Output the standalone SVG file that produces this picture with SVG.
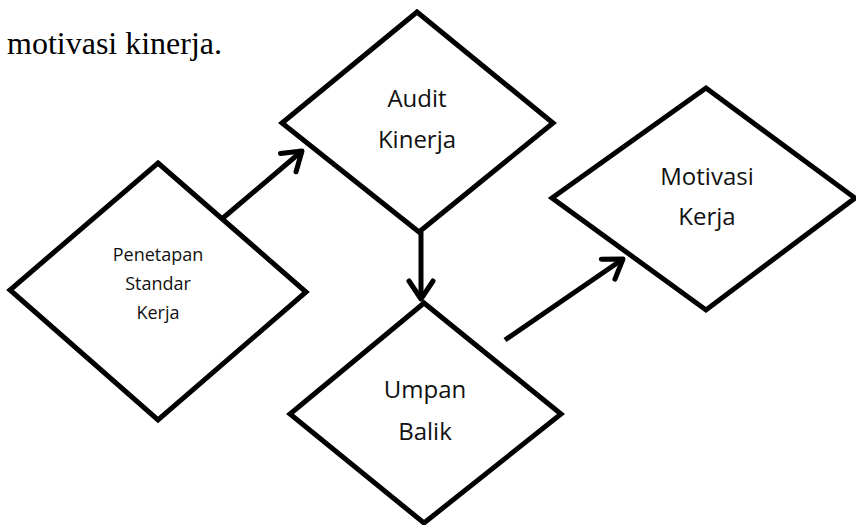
<svg xmlns="http://www.w3.org/2000/svg" width="856" height="525" viewBox="0 0 856 525">
<style>
.shape{fill:#fff;stroke:#000;stroke-width:5;stroke-linejoin:miter}
.lbl{font-family:"Open Sans","Noto Sans",sans-serif;fill:#111;text-anchor:middle}
.big{font-size:24px}
.small{font-size:18px}
.conn{fill:none;stroke:#000;stroke-width:5;marker-end:url(#arr)}
.body{font-family:"Liberation Serif","Times New Roman",serif;font-size:32px;fill:#000}
</style>
<defs>
<marker id="arr" markerUnits="userSpaceOnUse" markerWidth="40" markerHeight="40" viewBox="-30 -20 40 40" refX="0" refY="0" orient="auto" overflow="visible">
<path d="M-18,-12 L0,0 L-18,12" fill="none" stroke="#000" stroke-width="5" stroke-linecap="round" stroke-linejoin="round"/>
</marker>
</defs>
<rect width="856" height="525" fill="#fff"/>
<text class="body" x="7" y="54">motivasi kinerja.</text>
<g id="penetapan">
<polygon class="shape" points="158,163 306,292 158,420 10,290"/>
<text class="lbl small" x="158" y="261">Penetapan</text>
<text class="lbl small" x="158" y="290">Standar</text>
<text class="lbl small" x="158" y="319">Kerja</text>
</g>
<g id="audit">
<polygon class="shape" points="417,12 553,123 419,232 282,123"/>
<text class="lbl big" x="417" y="107">Audit</text>
<text class="lbl big" x="417" y="148">Kinerja</text>
</g>
<g id="umpan">
<polygon class="shape" points="424,303 561,414 424,523 290,414"/>
<text class="lbl big" x="425" y="398">Umpan</text>
<text class="lbl big" x="425" y="440">Balik</text>
</g>
<g id="motivasi">
<polygon class="shape" points="706,88 855,198 706,310 552,198"/>
<text class="lbl big" x="707" y="185">Motivasi</text>
<text class="lbl big" x="707" y="225">Kerja</text>
</g>
<g id="connectors">
<line class="conn" x1="223" y1="218" x2="302" y2="151"/>
<line class="conn" x1="421" y1="232" x2="421" y2="299"/>
<line class="conn" x1="505" y1="340" x2="623" y2="259"/>
</g>
</svg>
